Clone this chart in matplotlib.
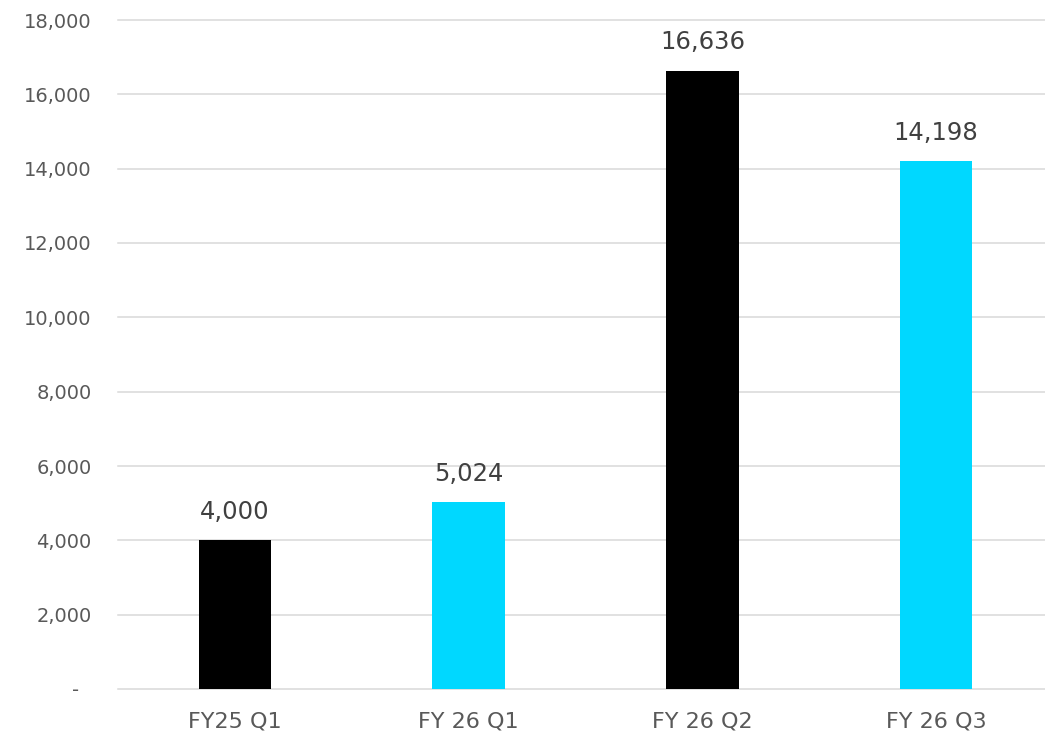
import matplotlib.pyplot as plt
from matplotlib.ticker import FuncFormatter

categories = ['FY25 Q1', 'FY 26 Q1', 'FY 26 Q2', 'FY 26 Q3']
values = [4000, 5024, 16636, 14198]
bar_colors = ['#000000', '#00D8FF', '#000000', '#00D8FF']

fig = plt.figure(figsize=(10.45, 7.41), dpi=100)
ax = fig.add_axes([118 / 1045, 1 - 689 / 741, 927 / 1045, (689 - 20) / 741])

x = range(len(categories))
ax.bar(x, values, width=0.31, color=bar_colors, zorder=3)

for i, v in enumerate(values):
    ax.annotate(f'{v:,}', (i, v), xytext=(0, 12), textcoords='offset points',
                ha='center', va='bottom', fontsize=17.5, color='#404040')

ax.set_ylim(0, 18000)
ax.set_xlim(-0.5, 3.466)
ax.set_yticks(range(0, 18001, 2000))
ax.yaxis.set_major_formatter(FuncFormatter(lambda v, p: '-  ' if v == 0 else f'{int(v):,}'))
ax.set_xticks(list(x))
ax.set_xticklabels(categories, fontsize=16,
                   family=['Liberation Sans Narrow', 'DejaVu Sans Condensed', 'DejaVu Sans'])

ax.grid(axis='y', color='#D9D9D9', linewidth=1.1, zorder=0)
for gl in ax.get_ygridlines():
    gl.set_clip_on(False)
for s in ['top', 'right', 'left', 'bottom']:
    ax.spines[s].set_visible(False)
ax.tick_params(axis='y', length=0, pad=19, labelsize=14, labelcolor='#595959')
ax.tick_params(axis='x', length=0, pad=16, labelcolor='#595959')

fig.savefig('out.png', dpi=100)
